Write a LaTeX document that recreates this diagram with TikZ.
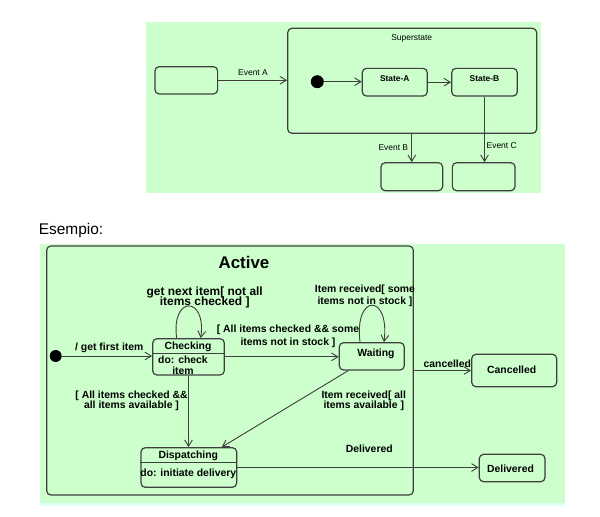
\documentclass[tikz,border=0pt]{standalone}
\usepackage{fontspec}
\setmainfont{Liberation Sans}
\usetikzlibrary{calc,arrows.meta,positioning}
\definecolor{umlgreen}{HTML}{CCFFCC}
\definecolor{umlcyan}{HTML}{DDFFF6}
\definecolor{umlline}{HTML}{3F3F3F}
\newcommand{\umlpx}{0.025cm}

\begin{document}
\begin{tikzpicture}[x=0.025cm,y=-0.025cm,
	state/.style={draw=umlline,rounded corners=3pt,line width=0.85pt,inner sep=0},
	sz/.style n args={2}{minimum width=#1*\umlpx,minimum height=#2*\umlpx},
	init/.style={circle,fill=black,inner sep=0,minimum size=13*\umlpx},
	trans/.style={draw=umlline,line width=0.65pt,-{Straight Barb[length=4.5pt,width=5.5pt]}},
	evt/.style={font=\fontsize{6}{7}\selectfont,inner sep=0},
	sname/.style={font=\bfseries\fontsize{6}{7}\selectfont,inner sep=0},
	lbl/.style={font=\bfseries\fontsize{7.4}{9}\selectfont,align=center,inner sep=0},
	bigl/.style={font=\bfseries\fontsize{8.5}{10}\selectfont,align=center,inner sep=0}]
	\useasboundingbox (0,0) rectangle (600,516);
	% superstate example
	\fill[umlgreen] (146,22.3) rectangle (541,192.5);
	\node[state,sz={249}{105}] (sup) at (412.2,80.8) {};
	\node[evt] (suptxt) at (411.7,38.3) {Superstate};
	\node[state,sz={62.7}{27.3}] (src) at (186.3,80.3) {};
	\node[init] (ini1) at (317.3,81.7) {};
	\node[state,sz={65}{27.7}] (sa) at (394.8,82.2) {};
	\node[sname] (satxt) at ($(sa.center)+(0,-4)$) {State-A};
	\node[state,sz={65.6}{27.7}] (sb) at (484.5,82.2) {};
	\node[sname] (sbtxt) at ($(sb.center)+(0,-4)$) {State-B};
	\node[state,sz={61.7}{28}] (tgb) at (411.8,176.7) {};
	\node[state,sz={62.7}{28}] (tgc) at (483.7,176.7) {};
	\draw[trans] (src.east) -- (src.east -| sup.west);
	\draw[trans] (ini1) -- (ini1 -| sa.west);
	\draw[trans] (sa.east) -- (sb.west);
	\draw[trans] (sup.south -| tgb.north) -- (tgb.north);
	\draw[trans] (sb.south) -- (sb.south |- tgc.north);
	\node[evt] (eva) at (253,72.3) {Event A};
	\node[evt] (evb) at (393.3,147.3) {Event B};
	\node[evt] (evc) at (501.7,145.3) {Event C};
	
	\node[anchor=west,inner sep=0,font=\fontsize{11}{13}\selectfont] (esm) at (38.5,230.5) {Esempio:};
	
	% order example
	\fill[umlgreen] (40,244) rectangle (564.5,502.7);
	\fill[umlcyan] (40,502.7) rectangle (564.5,505.7);
	\node[state,sz={366.6}{249}] (act) at (230,370.5) {};
	\node[inner sep=0,font=\bfseries\fontsize{12}{14}\selectfont] (acttxt) at (244,262) {Active};
	\node[init,minimum size=12*\umlpx] (ini2) at (55.7,356) {};
	% Checking
	\node[state,sz={71.6}{36.3}] (chk) at (188.5,356.85) {};
	\draw[umlline,line width=0.85pt] ($(chk.north west)+(0,15.3)$) -- ($(chk.north east)+(0,15.3)$);
	\node[lbl] (chktxt) at (188,347) {Checking};
	\node[lbl,font=\bfseries\fontsize{7.4}{8}\selectfont] (chkdo) at (183,365.5) {do: check\\item};
	% Waiting
	\node[state,sz={65}{27.3}] (wt) at (371.8,356.35) {};
	\node[lbl] (wttxt) at (376,354.3) {Waiting};
	% Dispatching
	\node[state,sz={95.7}{39.6}] (dsp) at (188.85,467.5) {};
	\draw[umlline,line width=0.85pt] ($(dsp.north west)+(0,15.6)$) -- ($(dsp.north east)+(0,15.6)$);
	\node[lbl] (dsptxt) at (188.3,456) {Dispatching};
	\node[lbl] (dspdo) at (188.3,474) {do: initiate delivery};
	% outside
	\node[state,sz={85}{32.4}] (cnc) at (514.2,370.5) {};
	\node[lbl] (cnctxt) at (511.7,370) {Cancelled};
	\node[state,sz={65.7}{27.4}] (dlv) at (512.15,468) {};
	\node[lbl] (dlvtxt) at (510.5,468.3) {Delivered};
	
	\draw[trans] (ini2) -- (ini2 -| chk.west);
	\draw[trans] ($(chk.north)+(-11.8,0)$) .. controls +(-6,-42.7) and +(6,-42.7) .. ($(chk.north)+(12.2,0)$);
	\draw[trans] (chk.east) -- (chk.east -| wt.west);
	\draw[trans] ($(wt.north)+(-11.8,0)$) .. controls +(-6,-49) and +(6,-49) .. ($(wt.north)+(12.2,0)$);
	\draw[trans] ($(wt.south)+(-23.5,0)$) -- ($(dsp.north)+(32.9,0)$);
	\draw[trans] (chk.south) -- (chk.south |- dsp.north);
	\draw[trans] (dsp.east) -- (dsp.east -| dlv.west);
	\draw[trans] (act.east |- cnc.west) -- (cnc.west);
	
	\node[lbl] (l1) at (109.3,348.3) {/ get first item};
	\node[bigl] (l2) at (204.7,297.2) {get next item[ not all\\[-2.7pt]items checked ]};
	\node[lbl] (l3) at (288,336.3) {[ All items checked \&\& some\\items not in stock ]};
	\node[lbl,font=\bfseries\fontsize{7.4}{8.7}\selectfont] (l4) at (365,296) {Item received[ some\\items not in stock ]};
	\node[lbl,font=\bfseries\fontsize{7.4}{9}\selectfont] (l5) at (131.5,400.8) {[ All items checked \&\&\\[-1.7pt]all items available ]};
	\node[lbl,font=\bfseries\fontsize{7.4}{9}\selectfont] (l6) at (363.8,400.8) {Item received[ all\\[-2.1pt]items available ]};
	\node[lbl] (l7) at (447.3,363.3) {cancelled};
	\node[lbl] (l8) at (369.3,449) {Delivered};
\end{tikzpicture}
\end{document}
